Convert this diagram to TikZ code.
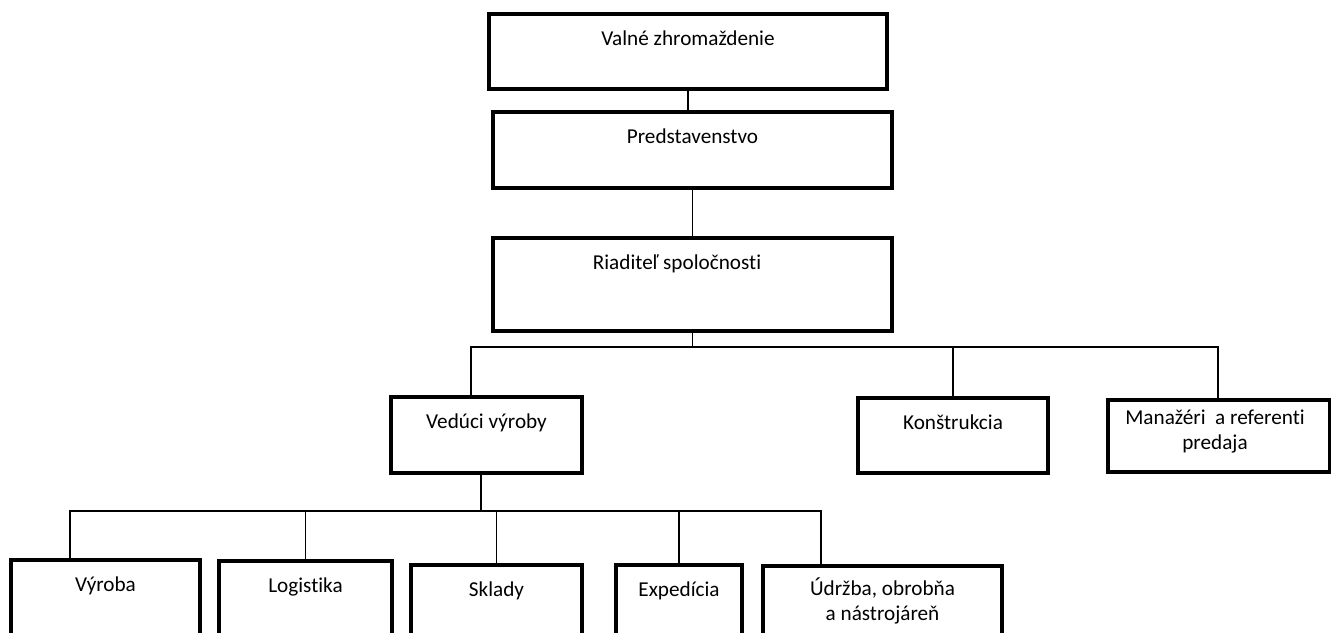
\documentclass[tikz,border=0pt]{standalone}
\usepackage{fontspec}
\setmainfont{Carlito}[Ligatures=NoCommon]

\begin{document}
\begin{tikzpicture}[x=0.5pt, y=-0.5pt,
    box/.style={draw, line width=1.6pt, inner sep=0pt},
    boxtext/.style={anchor=base, inner sep=0pt, align=center,
      font=\fontsize{10.6}{12.5}\selectfont},
    conn/.style={line width=0.9pt}]
  \useasboundingbox (0,0) rectangle (1331,632);
  \clip (0,0) rectangle (1331,632);

  % vedenie
  \node (vz) at (688,51.5) [box, minimum width=199pt, minimum height=37.5pt] {};
  \node (pr) at (692.5,150) [box, minimum width=199.5pt, minimum height=38pt] {};
  \node (rs) at (692.5,284.5) [box, minimum width=199.5pt, minimum height=46.5pt] {};
  \node (vz-t) at ([yshift=-16.5pt]vz.north) [boxtext] {Valné zhromaždenie};
  \node (pr-t) at ([yshift=-16.5pt]pr.north) [boxtext] {Predstavenstvo};
  \node (rs-t) at ([xshift=-7.75pt, yshift=-16.5pt]rs.north) [boxtext] {Riaditeľ spoločnosti};

  % druha uroven
  \node (vv) at (486.5,435) [box, minimum width=95.5pt, minimum height=38pt] {};
  \node (ko) at (953,435.5) [box, minimum width=95pt, minimum height=37.5pt] {};
  \node (mr) at (1219,436) [box, minimum width=111pt, minimum height=36pt] {};
  \node (vv-t) at ([yshift=-16.5pt]vv.north) [boxtext] {Vedúci výroby};
  \node (ko-t) at ([yshift=-16.5pt]ko.north) [boxtext] {Konštrukcia};
  \node (mr-t) at ([xshift=-2pt, yshift=-25.5pt]mr.north) [boxtext] {Manažéri~ a referenti\\ predaja};

  % vyroba
  \node (vy) at (105.5,620) [box, minimum width=94.5pt, minimum height=60pt] {};
  \node (lo) at (305.5,621) [box, minimum width=86.5pt, minimum height=60pt] {};
  \node (sk) at (496.5,625) [box, minimum width=85.5pt, minimum height=60pt] {};
  \node (ex) at (679,625) [box, minimum width=63pt, minimum height=60pt] {};
  \node (ud) at (882.5,626) [box, minimum width=119.5pt, minimum height=60pt] {};
  \node (vy-t) at ([yshift=-16.5pt]vy.north) [boxtext] {Výroba};
  \node (lo-t) at ([yshift=-16.5pt]lo.north) [boxtext] {Logistika};
  \node (sk-t) at ([yshift=-16.5pt]sk.north) [boxtext] {Sklady};
  \node (ex-t) at ([yshift=-16.5pt]ex.north) [boxtext] {Expedícia};
  \node (ud-t) at ([yshift=-28pt]ud.north) [boxtext] {Údržba, obrobňa\\ a nástrojáreň};

  % spojnice
  \coordinate (b1l) at (471,347);
  \coordinate (b1r) at (1218,347);
  \coordinate (b2) at (481,511);
  \coordinate (b2l) at (70,511);
  \coordinate (b2r) at (821,511);

  \draw [conn] (vz.south) -- (vz.south |- pr.north);
  \draw [conn] (pr.south) -- (pr.south |- rs.north);
  \draw [conn] (rs.south) -- (rs.south |- b1l);
  \draw [conn] (b1l |- vv.north) -- (b1l) -- (b1r) -- (b1r |- mr.north);
  \draw [conn] (ko.north) -- (ko.north |- b1l);
  \draw [conn] (vv.south -| b2) -- (b2);
  \draw [conn] (b2l |- vy.north) -- (b2l) -- (b2r) -- (b2r |- ud.north);
  \foreach \n in {lo, sk, ex}
    \draw [conn] (\n.north) -- (\n.north |- b2l);
\end{tikzpicture}
\end{document}
